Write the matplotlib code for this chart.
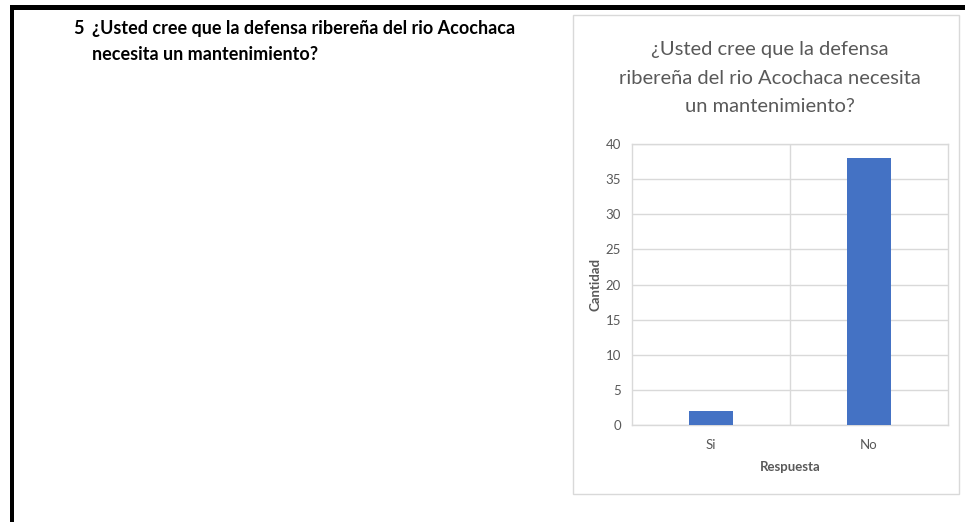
import matplotlib.pyplot as plt
from matplotlib.patches import Rectangle

# survey answers
respuestas = ['Si', 'No']
cantidad = [2, 38]
y_ticks = [0, 5, 10, 15, 20, 25, 30, 35, 40]

pregunta = ['¿Usted cree que la defensa ribereña del rio Acochaca',
            'necesita un mantenimiento?']
titulo_grafico = ['¿Usted cree que la defensa',
                  'ribereña del rio Acochaca necesita',
                  'un mantenimiento?']

plt.rcParams['font.family'] = ['Lato', 'DejaVu Sans']
gris = '#595959'
rejilla = '#d9d9d9'

fig = plt.figure(figsize=(9.65, 5.22), dpi=100)
W, H = 965, 522

# page border (top and left thick black lines)
fig.patches.append(Rectangle((10 / W, 1 - 10 / H), 1 - 10 / W, 5 / H, transform=fig.transFigure,
                             facecolor='black', edgecolor='none'))
fig.patches.append(Rectangle((10 / W, 0), 4 / W, 1 - 5 / H, transform=fig.transFigure,
                             facecolor='black', edgecolor='none'))

# question text
fig.text(73 / W, 1 - 34 / H, '5', fontsize=13, fontweight='bold', ha='left', va='baseline')
for i, linea in enumerate(pregunta):
    fig.text(92 / W, 1 - (34 + 25.5 * i) / H, linea, fontsize=13, fontweight='bold',
             ha='left', va='baseline')

# chart frame
fig.patches.append(Rectangle((573 / W, 1 - 494 / H), 386 / W, 479 / H, transform=fig.transFigure,
                             facecolor='white', edgecolor=rejilla, linewidth=1, zorder=-1))

for i, linea in enumerate(titulo_grafico):
    fig.text(770 / W, 1 - (55 + 28.5 * i) / H, linea, fontsize=14.5, color=gris,
             ha='center', va='baseline')

ax = fig.add_axes([632 / W, 1 - 425 / H, 316 / W, 281 / H])
ax.patch.set_alpha(0)
x = range(len(respuestas))
ax.bar(x, cantidad, width=0.28, color='#4472c4', zorder=3)
ax.set_xlim(-0.5, len(respuestas) - 0.5)
ax.set_ylim(0, 40)
ax.set_yticks(y_ticks)
ax.set_xticks(list(x))
ax.set_xticklabels(respuestas)

# horizontal gridlines and vertical category separators
ax.grid(axis='y', color=rejilla, linewidth=1, zorder=0)
ax.set_xticks([0.5], minor=True)
ax.grid(axis='x', which='minor', color=rejilla, linewidth=1, zorder=0)
ax.tick_params(which='both', length=0)
ax.tick_params(axis='y', labelsize=9.5, labelcolor=gris, pad=8)
ax.tick_params(axis='x', labelsize=9.5, labelcolor=gris, pad=10)
for s in ax.spines.values():
    s.set_color(rejilla)
    s.set_linewidth(1)

ax.set_xlabel('Respuesta', fontsize=9.5, fontweight='bold', color=gris, labelpad=7)
ax.set_ylabel('Cantidad', fontsize=9.5, fontweight='bold', color=gris, labelpad=3)

fig.savefig('out.png', dpi=100)
